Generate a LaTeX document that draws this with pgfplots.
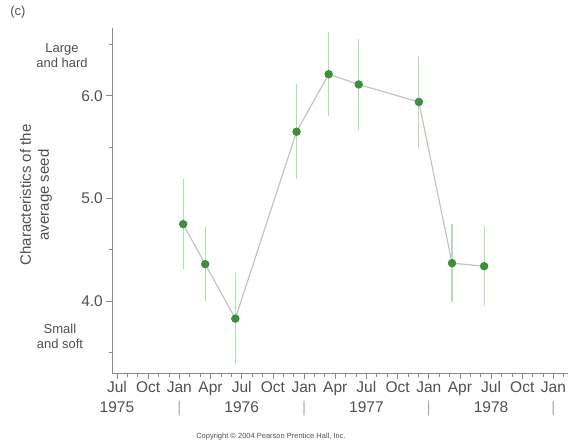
\documentclass[border=0pt]{standalone}
\usepackage{pgfplots}
\pgfplotsset{compat=1.18}
\usepackage{fontspec}
\setmainfont{Liberation Sans}
\definecolor{txt}{HTML}{505050}
\definecolor{axc}{HTML}{8A8A8A}
\definecolor{lnc}{HTML}{C4C4C4}
\definecolor{dkg}{HTML}{3E8E3E}
\definecolor{ltg}{HTML}{B0DFB0}
\pgfplotstableread{
m     y     e
12.37 4.75  0.44
14.49 4.36  0.36
17.39 3.83  0.44
23.28 5.65  0.46
26.37 6.21  0.41
29.26 6.11  0.44
35.05 5.94  0.45
38.24 4.37  0.38
41.33 4.34  0.39
}\seeds
\begin{document}
\begin{tikzpicture}[x=1pt,y=1pt]
\useasboundingbox (0,0) rectangle (568,-447);
\begin{axis}[
  at={(112pt,-373pt)}, anchor=south west,
  scale only axis, width=456pt, height=345pt,
  xmin=5.52, xmax=49.4, ymin=3.3, ymax=6.66,
  axis x line*=bottom, axis y line*=left,
  axis line style={axc, line width=0.8pt, -},
  xtick={6,9,...,48},
  xticklabels={Jul,Oct,Jan,Apr,Jul,Oct,Jan,Apr,Jul,Oct,Jan,Apr,Jul,Oct,Jan},
  minor xtick={5,...,49},
  ytick={4,5,6}, yticklabels={4.0,5.0,6.0},
  minor ytick={3.5,4.5,5.5,6.5},
  tick align=outside,
  major tick length=6pt, minor tick length=3.5pt,
  every tick/.style={axc, line width=0.7pt},
  tick label style={font=\fontsize{15.5}{17}\selectfont, text=txt},
  xticklabel style={text height=11pt, text depth=3pt, inner sep=2pt},
  yticklabel style={inner sep=3pt},
  extra x ticks={6,12,18,24,30,36,42,48},
  extra x tick labels={1975,{\textcolor{axc!70}{|}},1976,{\textcolor{axc!70}{|}},1977,{\textcolor{axc!70}{|}},1978,{\textcolor{axc!70}{|}}},
  extra x tick style={major tick length=0pt, xticklabel style={yshift=-26pt}},
  clip=false,
]
\addplot[lnc, line width=1.2pt, mark=*, mark size=3.6pt,
  mark options={draw=dkg, fill=dkg},
  error bars/.cd, y dir=both, y explicit,
  error bar style={ltg, line width=1.1pt}, error mark=none]
  table[x=m, y=y, y error=e] {\seeds};
\end{axis}
\node[text=txt, font=\fontsize{13}{14}\selectfont] at (18,-12) {(c)};
\node[text=txt, align=center, font=\fontsize{13}{15}\selectfont] at (62,-56) {Large\\and hard};
\node[text=txt, align=center, font=\fontsize{13}{15}\selectfont] at (60,-336) {Small\\and soft};
\node[text=txt, align=center, rotate=90, font=\fontsize{15}{18}\selectfont] at (36,-195) {Characteristics of the\\average seed};
\node[text=txt, font=\fontsize{7.5}{9}\selectfont] at (271,-437) {Copyright © 2004 Pearson Prentice Hall, Inc.};
\end{tikzpicture}
\end{document}
